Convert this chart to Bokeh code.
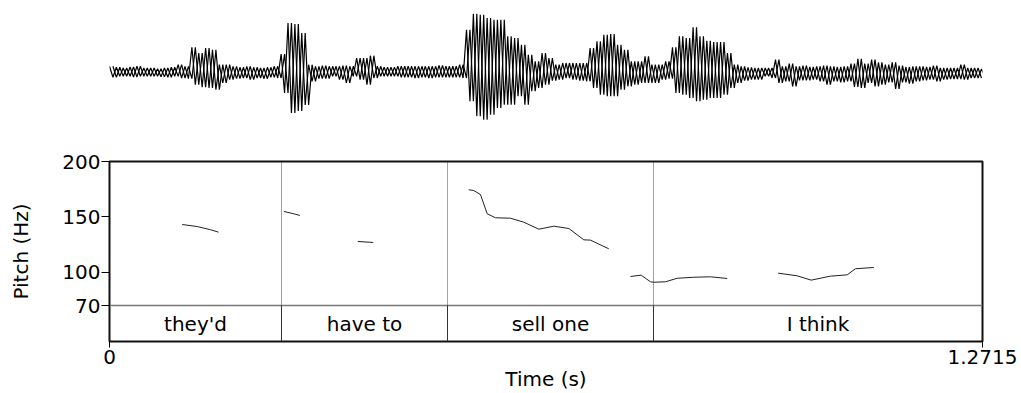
from bokeh.plotting import figure
from bokeh.layouts import column
from bokeh.models import Range1d, FixedTicker
from bokeh.core.properties import value
from bokeh.embed import file_html
from bokeh.resources import INLINE

# ---------------- data ----------------
duration = 1.2715
wave_step = 0.01  # one envelope reading every 10 ms
wave_top = [6.7, 5.7, 5, 6, 6.7, 5, 5, 4.3, 5, 5.7, 8.3, 6.7, 25.7, 20, 25, 23.3,
            8.3, 8.3, 6.7, 5.7, 6.7, 5.7, 5, 5.7, 6.7, 19, 50, 49, 40, 8.3, 6.7, 7.3,
            6.7, 6.7, 7.3, 6.7, 15, 15, 17.3, 6.7, 5.7, 5.7, 6.7, 6.7, 6.7, 6.7, 6.7, 6.7,
            7.7, 6.7, 6.7, 8.3, 43.3, 59.3, 58.3, 55, 53.3, 53.3, 36.7, 35, 28.3, 18.3, 11.7, 20,
            15, 8.3, 10, 10, 10, 10, 25, 31.7, 38.3, 39, 28.3, 23.3, 11.7, 11.7, 16.7, 8.3,
            8.3, 11.7, 25.7, 36.7, 35, 45.7, 36.7, 32.3, 31, 31, 20, 8.3, 6.7, 5.7, 5, 5,
            5, 13.3, 6.7, 9.3, 6.7, 7.3, 6, 6.7, 7.3, 6.7, 6, 6.7, 9.3, 14.3, 9.3, 13.3,
            10.7, 8.3, 10.7, 7.3, 6, 6.7, 6.7, 6, 7.3, 5, 5, 5, 8.3, 5, 5, 4]
wave_bottom = [4.3, 3.3, 3.3, 4, 3.3, 3.3, 3.3, 3.7, 4.3, 3.3, 5, 5.7, 11.7, 14.3, 15, 16.7,
               10, 6.7, 5.7, 5, 6.7, 5, 5.7, 4.3, 5, 20, 40, 38, 32, 8.3, 5.7, 5.7,
               3.3, 6.7, 10, 3.3, 6.7, 11.7, 5, 3.3, 3.3, 3.3, 4.3, 4.3, 5, 4.3, 5, 4.3,
               4.3, 4.3, 4.3, 5, 28.3, 43.3, 46.7, 41.7, 35, 31.7, 31.7, 23.3, 31.7, 18.3, 15, 11.7,
               7.7, 6.7, 5, 6.7, 7.7, 8.3, 15, 21.7, 23.3, 23.3, 16.7, 13.3, 11.7, 10, 10, 10,
               6.7, 5.7, 20, 21.7, 25, 28.3, 26.7, 25, 25, 21.7, 15, 10, 7.7, 6.7, 6.7, 3.3,
               5, 10, 8.3, 13.3, 7.3, 7.3, 6.7, 8.3, 11.7, 8.3, 9.3, 8.3, 14, 15, 10, 13.3,
               11.7, 9.3, 16, 9.3, 10.7, 8.3, 7.3, 6.7, 8.3, 6.7, 6, 6, 6.7, 5, 5, 4]

pitch_times = [
    [0.1059, 0.1277, 0.1471, 0.1588],
    [0.2539, 0.2684, 0.2772],
    [0.3616, 0.3841],
    [0.5233, 0.5306, 0.5403, 0.5501, 0.5622, 0.5840, 0.6034, 0.6253, 0.6471,
     0.6690, 0.6908, 0.7006, 0.7272],
    [0.7588, 0.7744, 0.7879, 0.7927, 0.8098, 0.8268, 0.8510, 0.8753, 0.8996],
    [0.9739, 1.0016, 1.0220, 1.0501, 1.0744, 1.0865, 1.1132],
]
pitch_hz = [
    [143.1, 141.3, 138.4, 136.2],
    [154.9, 152.8, 151.3],
    [127.8, 126.9],
    [174.5, 173.8, 170.2, 152.8, 149.2, 148.8, 145.2, 138.9, 141.6, 139.5, 129.3, 129.0, 121.2],
    [96.2, 97.4, 91.4, 91.0, 91.4, 94.6, 95.5, 95.9, 94.4],
    [99.2, 96.8, 92.9, 96.5, 97.7, 103.2, 104.3],
]

word_labels = ["they'd", "have to", "sell one", "I think"]
word_bounds = [0.0, 0.2505, 0.4923, 0.7923, 1.2715]

pitch_ticks = [70, 100, 150, 200]
pitch_min, pitch_max, tier_bottom = 70, 200, 37.5
time_ticks = [0, 1.2715]
time_tick_labels = ["0", "1.2715"]

FONT = "DejaVu Sans"

# ---------------- shared x range ----------------
xr = Range1d(0, duration)

# ---------------- waveform ----------------
top = figure(width=1021, height=145, x_range=xr, y_range=Range1d(-72.5, 72.5),
             output_backend="svg", toolbar_location=None,
             min_border_left=109, min_border_right=39, min_border_top=0, min_border_bottom=0,
             x_axis_location=None, y_axis_location=None, outline_line_color=None)
top.grid.visible = False
# two interleaved zig-zag passes through the same envelope readings
for phase in (0.0, 0.5):
    wx, wy = [], []
    for i, (a, b) in enumerate(zip(wave_top, wave_bottom)):
        t = (i + phase) * wave_step
        if t > duration:
            break
        wx += [t, t + wave_step / 2]
        wy += [a, -b]
    top.line(wx, wy, line_color="black", line_width=1.2)

# ---------------- pitch + tier ----------------
p = figure(width=1021, height=248, x_range=xr, y_range=Range1d(tier_bottom, pitch_max),
           output_backend="svg", toolbar_location=None,
           min_border_left=109, min_border_right=39, min_border_top=16, min_border_bottom=52)
p.grid.visible = False
p.outline_line_color = "#111111"
p.outline_line_width = 2

p.yaxis.ticker = FixedTicker(ticks=pitch_ticks)
p.yaxis.axis_line_color = None
p.yaxis.major_tick_in = 0
p.yaxis.major_tick_out = 8
p.yaxis.major_tick_line_color = "black"
p.yaxis.minor_tick_line_color = None
p.yaxis.major_label_standoff = 1
p.yaxis.major_label_text_font = FONT
p.yaxis.major_label_text_font_size = "20px"
p.yaxis.major_label_text_color = "black"
p.yaxis.axis_label = "Pitch (Hz)"
p.yaxis.axis_label_text_font = FONT
p.yaxis.axis_label_text_font_style = "normal"
p.yaxis.axis_label_text_font_size = "20px"
p.yaxis.axis_label_text_color = "black"
p.yaxis.axis_label_standoff = 26

p.xaxis.ticker = FixedTicker(ticks=time_ticks)
p.xaxis.major_label_overrides = {k: v for k, v in zip(time_ticks, time_tick_labels)}
p.xaxis.axis_line_color = None
p.xaxis.major_tick_in = 0
p.xaxis.major_tick_out = 6
p.xaxis.major_tick_line_color = "black"
p.xaxis.minor_tick_line_color = None
p.xaxis.major_label_standoff = 2
p.xaxis.major_label_text_font = FONT
p.xaxis.major_label_text_font_size = "20px"
p.xaxis.major_label_text_color = "black"
p.xaxis.axis_label = "Time (s)"
p.xaxis.axis_label_text_font = FONT
p.xaxis.axis_label_text_font_style = "normal"
p.xaxis.axis_label_text_font_size = "20px"
p.xaxis.axis_label_text_color = "black"
p.xaxis.axis_label_standoff = 0

# tier separator line at 70 Hz
p.segment(x0=[0], y0=[pitch_min], x1=[duration], y1=[pitch_min],
          line_color="#777777", line_width=1.5)

# interval boundaries
inner = word_bounds[1:-1]
p.segment(x0=inner, y0=[pitch_min] * len(inner), x1=inner, y1=[pitch_max] * len(inner),
          line_color="#444444", line_width=1, line_dash="1 1")
p.segment(x0=inner, y0=[tier_bottom] * len(inner), x1=inner, y1=[pitch_min] * len(inner),
          line_color="#333333", line_width=1)

# pitch contours
p.multi_line(xs=pitch_times, ys=pitch_hz, line_color="#222222", line_width=1)

# tier labels
mids = [(a + b) / 2 for a, b in zip(word_bounds[:-1], word_bounds[1:])]
p.text(x=mids, y=[(tier_bottom + pitch_min) / 2] * len(mids), text=word_labels,
       text_font=value(FONT), text_font_size="20px", text_align="center",
       text_baseline="middle", text_color="black")

layout = column(top, p, spacing=0)
open("out.html", "w").write(file_html(layout, INLINE))
